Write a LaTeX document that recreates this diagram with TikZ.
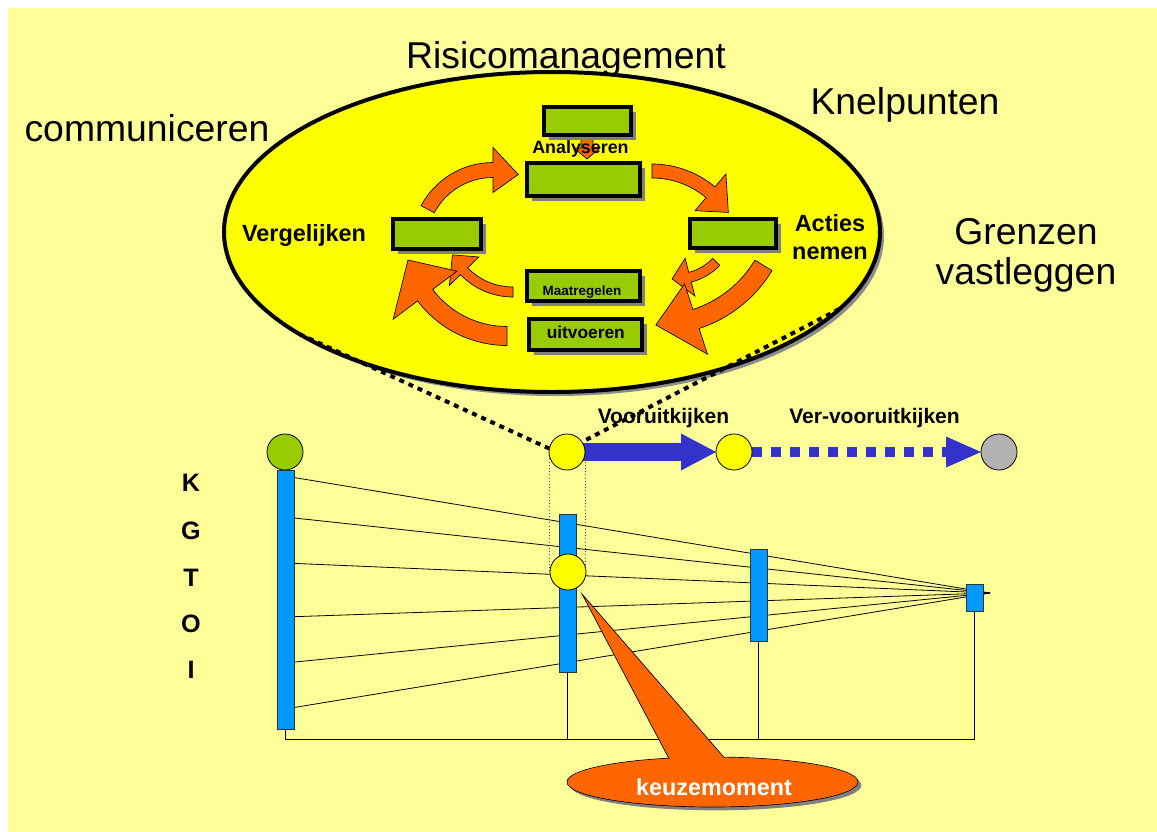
\documentclass[tikz,border=0pt]{standalone}
\usepackage{fontspec}
\setmainfont{Liberation Sans}
\usetikzlibrary{shapes.geometric,shadows,arrows.meta,calc}
\definecolor{bgyel}{HTML}{FFFF99}
\definecolor{elyel}{HTML}{FFFF00}
\definecolor{grn}{HTML}{99CC00}
\definecolor{org}{HTML}{FF6600}
\definecolor{barblue}{HTML}{0099FF}
\definecolor{arrblue}{HTML}{3333CC}
\definecolor{gry}{HTML}{B2B2B2}
\pgfdeclarelayer{back}
\pgfdeclarelayer{bg}
\pgfsetlayers{back,bg,main}
% curved fat arrow: cx, cy, r, start angle, end angle, shaft width, head width, tip angle
\newcommand\carrow[8]{%
  \draw[orarrow, shift={(#1,#2)}] (#4:{#3+#6/2}) arc[start angle=#4, end angle=#5, radius={#3+#6/2}]
    -- (#5:{#3+#7/2}) -- (#8:#3) -- (#5:{#3-#7/2}) -- (#5:{#3-#6/2})
    arc[start angle=#5, end angle=#4, radius={#3-#6/2}] -- cycle;}
\begin{document}
\begin{tikzpicture}[x=0.75pt,y=-0.75pt,
  every node/.style={inner sep=0pt, outer sep=0pt},
  title/.style={font=\fontsize{28}{30}\selectfont},
  lab/.style={font=\bfseries\fontsize{17.6}{21.2}\selectfont},
  orarrow/.style={fill=org, draw=black, line width=0.5pt},
  gbox/.style={draw=black, line width=3pt, fill=grn,
    drop shadow={opacity=1, fill=black!50, shadow xshift=3.5pt, shadow yshift=-3.5pt}},
  bigell/.style={ellipse, draw=black, line width=3pt, fill=elyel,
    minimum width=656*0.75pt, minimum height=320*0.75pt,
    drop shadow={opacity=1, fill=black!45, shadow xshift=3pt, shadow yshift=-3pt}},
  circ/.style={circle, draw=black, line width=0.6pt, minimum size=27pt},
  bar/.style={draw=black!80, line width=0.5pt, fill=barblue},
  thinline/.style={draw=black, line width=0.6pt},
  thindot/.style={draw=black!70, line width=0.4pt, dotted},
  dotline/.style={draw=black, line width=3pt, dash pattern=on 3.75pt off 3.75pt},
  kgt/.style={font=\bfseries\fontsize{18.9}{22}\selectfont, anchor=base},
  flow/.style={font=\bfseries\fontsize{15.75}{18}\selectfont, anchor=base}
]
\useasboundingbox (0,0) rectangle (1157,832);
\begin{pgfonlayer}{back}
  \fill[white] (0,0) rectangle (1157,832);
  \fill[bgyel] (8,8) rectangle (1157,832);
\end{pgfonlayer}

% ---- risk management cycle ----
\node[bigell] (cyc) at (552,232) {};

\carrow{493}{244}{74}{-152}{-90}{15}{45}{-70}
\carrow{652}{262}{91}{-90}{-50}{14}{48}{-33}
\carrow{676}{223}{56}{44}{75.5}{10}{39}{94}
\carrow{658}{202}{123}{31}{72}{20}{74}{91}
\carrow{513}{224}{68}{90}{136}{10}{41}{153}
\carrow{507}{233.5}{102.5}{90}{143}{19}{80}{165}
\draw[orarrow] (581,137) -- (581,148) -- (574,148) -- (587,159) -- (600,148) -- (593,148) -- (593,137) -- cycle;

\node[gbox, minimum width=87*0.75pt, minimum height=28*0.75pt] (b1) at (587.5,121) {};
\node[gbox, minimum width=113*0.75pt, minimum height=33*0.75pt] (b2) at (583.5,179.5) {};
\node[gbox, minimum width=88*0.75pt, minimum height=30*0.75pt] (b3) at (437,234) {};
\node[gbox, minimum width=86*0.75pt, minimum height=29*0.75pt] (b4) at (733,233.5) {};
\node[gbox, minimum width=113*0.75pt, minimum height=30*0.75pt] (b5) at (583.5,286) {};
\node[gbox, minimum width=113*0.75pt, minimum height=31*0.75pt] (b6) at (585.5,334.5) {};

\node[font=\bfseries\fontsize{13.4}{16}\selectfont, anchor=base] (tan) at (580.5,153.3) {Analyseren};
\node[font=\bfseries\fontsize{10.1}{12}\selectfont, anchor=base] (tmr) at (582,295) {Maatregelen};
\node[font=\bfseries\fontsize{13}{15}\selectfont, anchor=base] (tuv) at (585.8,338) {uitvoeren};
\node[lab, anchor=base] (tvg) at (304,241.7) {Vergelijken};
\node[lab, align=center] (tac) at (830,237.4) {Acties\\nemen};

\node[title, anchor=base] (t1) at (566,68) {Risicomanagement};
\node[title, anchor=base] (t2) at (147,141) {communiceren};
\node[title, anchor=base] (t3) at (905,114) {Knelpunten};
\node[title, align=center] (t4) at (1026,255) {Grenzen\\vastleggen};

% ---- time line ----
\node[circ, fill=grn] (c0) at (285,452) {};
\node[circ, fill=elyel] (c1) at (567,452) {};
\node[circ, fill=elyel] (c2) at (734,452) {};
\node[circ, fill=gry] (c3) at (999,452) {};

\node[bar, minimum width=17*0.75pt, minimum height=259*0.75pt] (bL) at (285.5,599.5) {};
\node[bar, minimum width=17*0.75pt, minimum height=158*0.75pt] (bM) at (567.5,593) {};
\node[bar, minimum width=17*0.75pt, minimum height=92*0.75pt] (bR) at (758.5,595) {};
\node[bar, minimum width=17*0.75pt, minimum height=27*0.75pt] (bS) at (974.5,597.5) {};
\node[circ, fill=elyel] (yc) at (568,572) {};

\coordinate (conv) at (990,593);
\coordinate (bl) at (285.5,739);
\coordinate (br) at (974.5,739);

\begin{pgfonlayer}{bg}
  \foreach \i/\yy in {1/476,2/517,3/563,4/617,5/663,6/709} {
    \coordinate (s\i) at (285,\yy);
    \draw[thinline] (s\i) -- (conv);
  }
  \draw[thinline] (bL.south) -- (bl) -- (br) -- (bS.south);
  \draw[thinline] (bM.south) -- (bM.south |- bl);
  \draw[thinline] (bR.south) -- (bR.south |- bl);
  \draw[thindot] (c1.west) -- (c1.west |- yc.center);
  \draw[thindot] (c1.east) -- (c1.east |- yc.center);
  \draw[arrblue, line width=13.5pt, -{Triangle[length=26.25pt, width=27.75pt, line width=0pt]}] (c1.center) -- (c2.west);
  \draw[arrblue, line width=7pt, dash pattern=on 7.5pt off 6.75pt, -{Triangle[length=26.25pt, width=23.25pt, line width=0pt]}] (c2.east) -- (c3.west);
\end{pgfonlayer}

\draw[dotline] (cyc.202) -- (c1.169);
\draw[dotline] (cyc.345) -- (c1.34);

\node[flow] (fv1) at (663.5,423.3) {Vooruitkijken};
\node[flow] (fv2) at (874.5,423) {Ver-vooruitkijken};

\node[kgt] (lk) at (191,491.7) {K};
\node[kgt] (lg) at (191,539) {G};
\node[kgt] (lt) at (191,586) {T};
\node[kgt] (lo) at (191,632) {O};
\node[kgt] (li) at (191,678) {I};

% ---- callout ----
\node[ellipse, fill=org, draw=black, line width=0.5pt, minimum width=291*0.75pt, minimum height=50*0.75pt,
  drop shadow={opacity=1, fill=black!50, shadow xshift=2.5pt, shadow yshift=-2.5pt}] (ko) at (712.5,782) {};
\coordinate (ktip) at (582,594);
\draw[orarrow] (ktip) -- (675,770) -- (735,770) -- cycle;
\fill[org] (ko.center) ellipse [x radius=144.6, y radius=24.2];
\node[font=\bfseries\fontsize{17.5}{20}\selectfont, text=white, anchor=base] (kt) at (714,795) {keuzemoment};
\end{tikzpicture}
\end{document}
